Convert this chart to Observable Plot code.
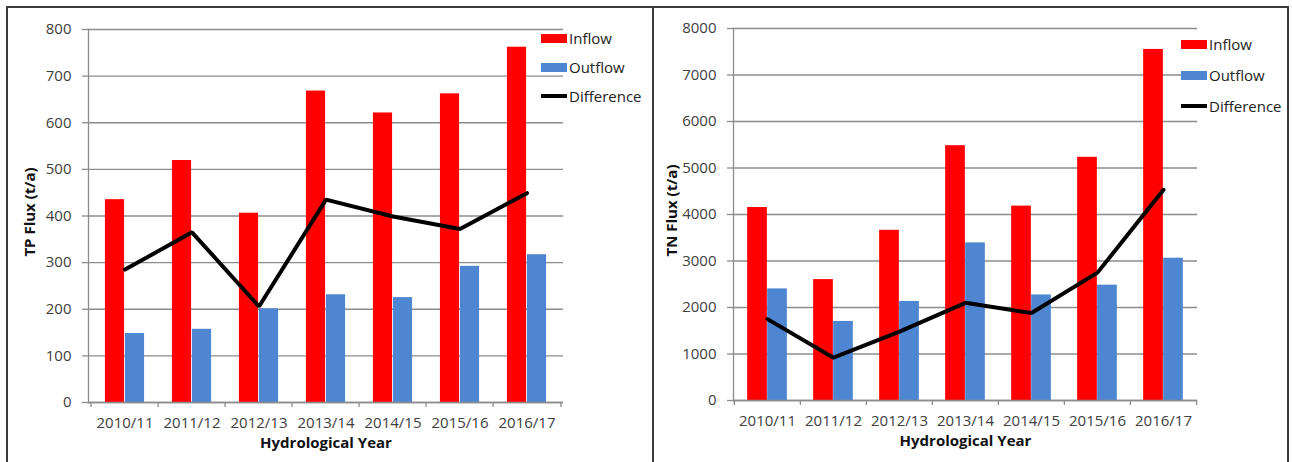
<!DOCTYPE html>
<html>
<head>
<meta charset="utf-8">
<script src="https://cdn.jsdelivr.net/npm/d3@7"></script>
<script src="https://cdn.jsdelivr.net/npm/@observablehq/plot@0.6"></script>
<style>
  html, body { margin: 0; padding: 0; background: #fff; }
  #wrap { position: relative; width: 1292px; height: 462px; overflow: hidden; background: #fff; font-family: "Open Sans", sans-serif; }
  .chart { position: absolute; top: 0; }
  .border { position: absolute; background: #3a3a3a; }
  .legend { position: absolute; font-family: "Open Sans", sans-serif; font-size: 15px; color: #222; }
  .item { position: absolute; left: 0; display: flex; align-items: center; white-space: nowrap; height: 20px; }
  .sw { width: 26px; height: 9px; margin-right: 2px; }
  .ln { width: 26px; height: 4px; margin-right: 2px; background: #000; }
</style>
</head>
<body>
<div id="wrap"></div>
<script>
const years = ["2010/11", "2011/12", "2012/13", "2013/14", "2014/15", "2015/16", "2016/17"];
const seriesNames = ["Inflow", "Outflow", "Difference"];

const tpInflow = [435, 519, 406, 668, 621, 662, 762];
const tpOutflow = [148, 157, 201, 231, 225, 292, 317];
const tpDifference = [285, 365, 206, 435, 399, 372, 449];
const tpTicks = [0, 100, 200, 300, 400, 500, 600, 700, 800];

const tnInflow = [4150, 2600, 3660, 5480, 4180, 5230, 7550];
const tnOutflow = [2400, 1700, 2130, 3390, 2270, 2480, 3060];
const tnDifference = [1750, 920, 1480, 2100, 1880, 2750, 4530];
const tnTicks = [0, 1000, 2000, 3000, 4000, 5000, 6000, 7000, 8000];

const RED = "#ff0000", BLUE = "#4f86d1", GRAY = "#8c8c8c";

function makeChart(cfg) {
  const data = years.map((y, i) => ({year: y, inflow: cfg.inflow[i], outflow: cfg.outflow[i], diff: cfg.diff[i]}));
  const plotW = cfg.width - cfg.marginLeft - cfg.marginRight;
  const bw = plotW / years.length;
  const barW = 20;
  return Plot.plot({
    width: cfg.width,
    height: 462,
    marginLeft: cfg.marginLeft,
    marginRight: cfg.marginRight,
    marginTop: cfg.marginTop,
    marginBottom: cfg.marginBottom,
    style: {fontFamily: "Open Sans, sans-serif", fontSize: "15px", background: "transparent"},
    x: {type: "band", domain: years, padding: 0, label: null},
    y: {domain: [0, cfg.ticks[cfg.ticks.length - 1]], label: null},
    marks: [
      Plot.gridY(cfg.ticks, {stroke: GRAY, strokeOpacity: 1, strokeWidth: 1.3}),
      Plot.axisY(cfg.ticks, {tickSize: 6, text: null, stroke: GRAY, strokeWidth: 1.3, label: null}),
      Plot.axisY(cfg.ticks, {tickSize: 0, tickPadding: 17, fill: "#404040", fontSize: 15, label: null, tickFormat: d3.format("d")}),
      Plot.frame({anchor: "left", stroke: GRAY, strokeWidth: 1.3}),
      Plot.barY(data, {x: "year", y: "inflow", fill: RED, insetLeft: bw / 2 - barW, insetRight: bw / 2}),
      Plot.barY(data, {x: "year", y: "outflow", fill: BLUE, insetLeft: bw / 2, insetRight: bw / 2 - barW}),
      Plot.ruleY([0], {stroke: GRAY, strokeWidth: 1.3}),
      Plot.axisX({tickSize: 5, text: null, stroke: GRAY, strokeWidth: 1.3, dx: -bw / 2, label: null}),
      Plot.axisX([years[years.length - 1]], {tickSize: 5, text: null, stroke: GRAY, strokeWidth: 1.3, dx: bw / 2, label: null}),
      Plot.axisX({tickSize: 0, tickPadding: 15, fill: "#404040", fontSize: 15, label: null}),
      Plot.lineY(data, {x: "year", y: "diff", stroke: "#000", strokeWidth: 4, strokeLinejoin: "miter"}),
      Plot.text([cfg.yTitle], {text: d => d, frameAnchor: "left", dx: cfg.yTitleDx, dy: -4, rotate: -90, textAnchor: "middle", lineAnchor: "middle", fontWeight: "bold", fontSize: 15, fill: "#111"}),
      Plot.text(["Hydrological Year"], {text: d => d, frameAnchor: "bottom", dy: 41, lineAnchor: "middle", fontWeight: "bold", fontSize: 15, fill: "#111"})
    ]
  });
}

const wrap = document.getElementById("wrap");

const left = makeChart({inflow: tpInflow, outflow: tpOutflow, diff: tpDifference, ticks: tpTicks,
  width: 650, marginLeft: 88, marginRight: 87, marginTop: 29, marginBottom: 60, yTitle: "TP Flux (t/a)", yTitleDx: -58});
left.classList.add("chart");
left.style.left = "0px";
wrap.appendChild(left);

const right = makeChart({inflow: tnInflow, outflow: tnOutflow, diff: tnDifference, ticks: tnTicks,
  width: 639, marginLeft: 80, marginRight: 95, marginTop: 28, marginBottom: 62, yTitle: "TN Flux (t/a)", yTitleDx: -61});
right.classList.add("chart");
right.style.left = "653px";
wrap.appendChild(right);

function addLegend(x, y, step) {
  const lg = document.createElement("div");
  lg.className = "legend";
  lg.style.left = x + "px";
  lg.style.top = y + "px";
  const kinds = [["sw", RED], ["sw", BLUE], ["ln", "#000"]];
  seriesNames.forEach((name, i) => {
    const it = document.createElement("div");
    it.className = "item";
    it.style.top = (i * step) + "px";
    const s = document.createElement("div");
    s.className = kinds[i][0];
    s.style.background = kinds[i][1];
    const t = document.createElement("span");
    t.textContent = name;
    it.appendChild(s);
    it.appendChild(t);
    lg.appendChild(it);
  });
  wrap.appendChild(lg);
}
addLegend(541, 28, 29);
addLegend(1181, 34, 31);

function addBorder(l, t, w, h) {
  const b = document.createElement("div");
  b.className = "border";
  Object.assign(b.style, {left: l + "px", top: t + "px", width: w + "px", height: h + "px"});
  wrap.appendChild(b);
}
addBorder(6, 6, 1283, 2);
addBorder(6, 6, 2, 456);
addBorder(652, 6, 2, 456);
addBorder(1287, 6, 2, 456);
</script>
</body>
</html>
